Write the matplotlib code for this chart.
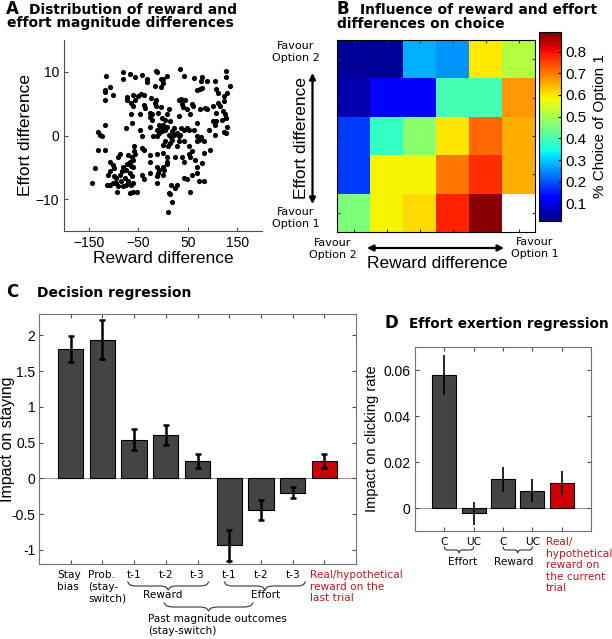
import numpy as np
import matplotlib
matplotlib.use("Agg")
import matplotlib.pyplot as plt
from matplotlib.transforms import blended_transform_factory

W, H = 612, 639

# ----------------------------------------------------------------------------
# Data
# ----------------------------------------------------------------------------
# A: trial-wise reward / effort magnitude differences
reward_diff = [
    -116, -80, -80, -67, -57, -43, -15, -12, -4, 9, 35, 42, 63, 79, 76, 89, 105, 127, 127, 135,
    -108, -117, -117, -101, -117, -32, -32, -17, -4, -1, 1, -44, -38, -51, -61, -72, -56, -72,
    -25, -14, -17, -15, 69, 74, 78, 108, 111, 124, 129, 32, 37, 45, 38, 40, 58, 49, 61, 85,
    101, 111, 116, 124,
    -64, -61, -39, -37, -47, -27, -23, -26, -22, -11, -4, 12, 9, -3, 5, 32, 55, 75, 88, 108,
    122, 125, 127, -64, 15,
    -118, -132, -128, -123, -75, -62, -46, -26, -9, -4, 0, 2, 5, -12, 8, 22, 19, 29, 35, 36,
    42, 48, 52, 62, 69, 101, 105, 108, 120, 105, 123, 127, 130, 92, -43, -20, -13, -8, -3, 13,
    16, 22, 32, 69, 77,
    -132, -118, -59, -58, -56, -43, -38, -26, -13, 1, 5, 10, 15, 19, 29, 32, 42, 52, 69, 72,
    82, 94, 82, 58, 53, 55, 38, 42, 25, 9, -1, 9, -87, -71, -63, -67, -61, -73, -64, -80,
    -107, -102, -138, -26, -13, -9, 1, 9, 65, 69, 79,
    -98, -107, -111, -98, -94, -87, -82, -74, -67, -63, -77, -71, -84, -94, -101, -107, -114,
    -143, -91, -92, -80, -74, -65, -61, -67, -61, -52, -61, -43, -38, -26, -13, -11, -13, 1,
    2, 29, 16, 25, 12, 15, 19, 11, 43, 49, 55, 58, 69, 72, 82, -91,
]
effort_diff = [
    9.4, 10.0, 8.8, 9.6, 9.2, 9.5, 10.2, 9.9, 8.8, 9.3, 10.5, 9.4, 9.0, 9.2, 8.6, 8.5, 8.5, 10.2, 9.2, 7.7,
    7.6, 7.1, 6.8, 6.4, 5.6, 8.8, 8.4, 7.8, 7.6, 8.3, 8.8, 6.5, 6.3, 6.2, 6.4, 6.0, 5.6, 5.6,
    5.9, 5.6, 5.1, 4.7, 7.1, 7.3, 7.5, 7.3, 6.7, 6.2, 6.7, 5.6, 5.8, 5.6, 5.0, 4.5, 4.9, 4.2, 4.6, 4.3,
    4.7, 5.1, 4.7, 5.4,
    5.1, 4.6, 4.8, 4.3, 3.3, 3.6, 3.4, 2.9, 2.5, 3.5, 4.4, 4.1, 3.3, 2.8, 2.5, 3.1, 3.3, 4.1, 4.1, 3.5,
    3.8, 3.3, 2.8, 3.3, 2.2,
    1.7, 0.5, 0.1, -0.1, 1.2, 2.0, 0.8, 1.4, 1.7, 1.2, 1.7, 1.2, 0.9, 0.9, 1.4, 1.2, 0.7, 0.4, 0.1, 1.2,
    0.9, 1.2, 0.8, 0.9, 2.0, 2.2, 1.7, 2.3, 2.5, 0.1, 0.5, 0.4, 1.4, 0.9, 0.0, 0.0, 0.0, 0.4, 0.7, 0.1,
    -0.2, 0.1, -0.1, -0.1, -0.3,
    -2.3, -2.2, -1.7, -2.5, -2.9, -2.0, -2.2, -3.0, -2.9, -1.5, -0.9, -1.7, -1.2, -0.7, -1.7, -0.8, -0.9, -1.7, -0.9, -0.7,
    -0.8, -2.3, -2.8, -2.4, -2.9, -3.3, -3.3, -4.1, -3.3, -3.4, -2.8, -4.1, -2.9, -3.0, -3.3, -4.1, -3.8, -4.4, -4.8, -4.9,
    -4.1, -4.6, -5.1, -4.1, -4.9, -5.4, -4.9, -4.5, -3.8, -4.9, -4.3,
    -5.1, -5.6, -6.2, -6.3, -6.7, -6.2, -5.6, -5.4, -5.9, -6.4, -6.7, -7.2, -7.2, -7.5, -7.5, -7.7, -7.7,
    -7.5, -8.0, -8.8, -8.0, -7.7, -7.7, -7.4, -9.0, -8.8, -8.8, -4.9, -6.2, -6.9, -5.9, -6.3, -5.9, -7.5, -6.2,
    -5.4, -7.7, -7.7, -8.3, -9.0, -9.2, -10.5, -12.0, -6.7, -6.9, -8.8, -6.2, -5.9, -7.2, -7.2, -3.3,
]

# B: proportion choosing option 1; rows = effort bins (favour opt 2 -> opt 1),
# columns = reward bins (favour opt 2 -> opt 1). Empty bin = NaN.
choice_pct = [
    [0.04, 0.04, 0.28, 0.255, 0.595, 0.515],
    [0.055, 0.12, 0.12, 0.40, 0.40, 0.67],
    [0.18, 0.38, 0.47, 0.60, 0.715, 0.65],
    [0.18, 0.585, 0.585, 0.70, 0.77, 0.65],
    [0.455, 0.585, 0.61, 0.78, 0.88, np.nan],
]
cbar_ticks = [0.1, 0.2, 0.3, 0.4, 0.5, 0.6, 0.7, 0.8]

# C: decision regression
dec_labels = ["Stay\nbias", "Prob.\n(stay-\nswitch)", "t-1", "t-2", "t-3",
              "t-1", "t-2", "t-3", "Real/hypothetical\nreward on the\nlast trial"]
dec_beta = [1.81, 1.94, 0.54, 0.61, 0.24, -0.94, -0.44, -0.20, 0.24]
dec_err = [0.18, 0.27, 0.15, 0.14, 0.095, 0.22, 0.14, 0.075, 0.095]

# D: effort exertion regression
eff_labels = ["C", "UC", "C", "UC", "Real/\nhypothetical\nreward on\nthe current\ntrial"]
eff_beta = [0.058, -0.0022, 0.0124, 0.0075, 0.011]
eff_err = [0.0087, 0.005, 0.0054, 0.005, 0.0052]

DARK = "#444444"
RED = "#cc0000"
LABEL_RED = "#c0161c"
FRAME = "0.45"
AXFONT = "Liberation Sans"

plt.rcParams["font.family"] = "DejaVu Sans"


def px_axes(fig, l, t, r, b):
    """Axes placed by pixel box (left, top, right, bottom) in the 612x639 canvas."""
    return fig.add_axes([l / W, 1 - b / H, (r - l) / W, (b - t) / H])


def brace(ax, x0, x1, y, h, lw=0.8):
    """Downward curly brace under the axis, x in data coords, y in axes fraction."""
    tr = blended_transform_factory(ax.transData, ax.transAxes)
    xm = 0.5 * (x0 + x1)
    d = 0.08 * (x1 - x0)
    xs = [x0, x0 + 0.3 * d, x0 + d, xm - d, xm - 0.3 * d, xm,
          xm + 0.3 * d, xm + d, x1 - d, x1 - 0.3 * d, x1]
    ys = [y, y - 0.35 * h, y - 0.5 * h, y - 0.5 * h, y - 0.65 * h, y - h,
          y - 0.65 * h, y - 0.5 * h, y - 0.5 * h, y - 0.35 * h, y]
    ax.plot(xs, ys, color="0.2", lw=lw, transform=tr, clip_on=False)


fig = plt.figure(figsize=(W / 100, H / 100), dpi=100)
ov = fig.add_axes([0, 0, 1, 1], zorder=-1)
ov.set_xlim(0, W); ov.set_ylim(H, 0); ov.axis("off")

title_kw = dict(fontsize=10, fontweight="bold", va="baseline", ha="left")
letter_kw = dict(fontsize=12, fontweight="bold", va="baseline", ha="left")

# ---------------------------------------------------------------- panel A
ov.text(6, 13.5, "A", **letter_kw)
ov.text(29, 13.5, "Distribution of reward and", **title_kw)
ov.text(7, 27.5, "effort magnitude differences", **title_kw)

axA = px_axes(fig, 64, 40, 262, 231)
axA.scatter(reward_diff, effort_diff, s=14, color="black", linewidths=0)
axA.set_xlim(-200, 200); axA.set_ylim(-15, 15)
axA.set_xticks([-150, -50, 50, 150]); axA.set_yticks([-10, 0, 10])
axA.spines[["top", "right"]].set_visible(False)
for sp in axA.spines.values():
    sp.set_color("0.3")
axA.tick_params(direction="in", length=3, color="0.3", labelsize=10)
for t in axA.get_xticklabels() + axA.get_yticklabels():
    t.set_family(AXFONT)
axA.set_xlabel("Reward difference", fontsize=12.5, family=AXFONT, labelpad=1)
axA.set_ylabel("Effort difference", fontsize=12.5, family=AXFONT, labelpad=2)

# ---------------------------------------------------------------- panel B
ov.text(336, 13.5, "B", **letter_kw)
ov.text(360, 13.5, "Influence of reward and effort", **title_kw)
ov.text(337, 28, "differences on choice", **title_kw)

axB = px_axes(fig, 337, 40, 535, 232)
cp = np.array(choice_pct, dtype=float)
im = axB.imshow(cp, cmap="jet", vmin=0.02, vmax=0.89, aspect="auto",
                interpolation="nearest")
axB.set_xticks(np.arange(cp.shape[1])); axB.set_yticks(np.arange(cp.shape[0]))
axB.set_xticklabels([]); axB.set_yticklabels([])
axB.tick_params(direction="in", length=2.5, top=True, right=True, color="0.2")

cax = px_axes(fig, 539, 32, 561, 221)
cb = fig.colorbar(im, cax=cax, ticks=cbar_ticks)
cb.outline.set_linewidth(0.8)
cb.ax.tick_params(labelsize=11, length=2.5, direction="in")
for t in cb.ax.get_yticklabels():
    t.set_family(AXFONT)
cb.set_label("% Choice of Option 1", fontsize=11, family=AXFONT, labelpad=4)

fav_kw = dict(fontsize=8, ha="center", va="center", linespacing=1.15)
ov.text(296, 52, "Favour\nOption 2", **fav_kw)
ov.text(296, 218, "Favour\nOption 1", **fav_kw)
ov.text(333, 249, "Favour\nOption 2", **fav_kw)
ov.text(535, 248, "Favour\nOption 1", **fav_kw)
ov.annotate("", xy=(312.5, 73), xytext=(312.5, 204),
            arrowprops=dict(arrowstyle="<|-|>", color="black", lw=1.6,
                            mutation_scale=9, shrinkA=0, shrinkB=0))
ov.annotate("", xy=(367, 248), xytext=(504, 248),
            arrowprops=dict(arrowstyle="<|-|>", color="black", lw=1.6,
                            mutation_scale=9, shrinkA=0, shrinkB=0))
ov.text(301, 138, "Effort difference", rotation=90, fontsize=12.5,
        family=AXFONT, ha="center", va="center")
ov.text(437, 263, "Reward difference", fontsize=12.5, family=AXFONT,
        ha="center", va="center")

# ---------------------------------------------------------------- panel C
ov.text(6, 297, "C", **letter_kw)
ov.text(37, 297, "Decision regression", **title_kw)

axC = px_axes(fig, 39, 314, 356, 564)
xc = np.arange(1, len(dec_beta) + 1)
colsC = [DARK] * (len(dec_beta) - 1) + [RED]
axC.bar(xc, dec_beta, width=0.8, color=colsC, edgecolor="black", linewidth=0.8,
        zorder=2)
axC.errorbar(xc, dec_beta, yerr=dec_err, fmt="none", ecolor="black",
             elinewidth=1.8, capsize=2.5, capthick=1.8, zorder=3)
axC.axhline(0, color="0.6", lw=0.8, zorder=1)
axC.set_xlim(0, 10); axC.set_ylim(-1.2, 2.3)
axC.set_xticks(xc); axC.set_xticklabels([])
axC.set_yticks([-1, -0.5, 0, 0.5, 1, 1.5, 2])
axC.set_yticklabels(["-1", "-0.5", "0", "0.5", "1", "1.5", "2"])
axC.tick_params(direction="in", length=3, top=True, right=True, color="0.3",
                labelsize=10, pad=2.5)
for t in axC.get_yticklabels():
    t.set_family(AXFONT)
for sp in axC.spines.values():
    sp.set_color(FRAME)
axC.set_ylabel("Impact on staying", fontsize=11.5, family=AXFONT, va="center")
axC.yaxis.set_label_coords(-0.1, 0.5)

trC = blended_transform_factory(axC.transData, axC.transAxes)
cat_kw = dict(fontsize=7.6, va="top", linespacing=1.2, transform=trC)
yC = lambda py: (564 - py) / 250.0
axC.text(0.57, yC(570), dec_labels[0], ha="left", **cat_kw)
axC.text(1.56, yC(570), dec_labels[1], ha="left", **cat_kw)
for i in range(2, 8):
    axC.text(xc[i], yC(570), dec_labels[i], ha="center", **cat_kw)
axC.text(8.55, yC(570), dec_labels[8], ha="left", color=LABEL_RED, **cat_kw)
brace(axC, 2.8, 5.35, yC(582), 8 / 250.0)
brace(axC, 5.85, 8.4, yC(582), 8 / 250.0)
brace(axC, 3.95, 6.75, yC(603), 8 / 250.0)
axC.text(3.9, yC(590), "Reward", ha="center", **cat_kw)
axC.text(7.15, yC(590), "Effort", ha="center", **cat_kw)
axC.text(3.45, yC(614), "Past magnitude outcomes\n(stay-switch)", ha="left",
         **cat_kw)

# ---------------------------------------------------------------- panel D
ov.text(385, 328, "D", **letter_kw)
ov.text(409, 328, "Effort exertion regression", fontsize=9.8,
        fontweight="bold", va="baseline", ha="left")

axD = px_axes(fig, 415, 347, 591, 531)
xd = np.arange(1, len(eff_beta) + 1)
colsD = [DARK] * (len(eff_beta) - 1) + [RED]
axD.bar(xd, eff_beta, width=0.82, color=colsD, edgecolor="black",
        linewidth=0.8, zorder=2)
axD.errorbar(xd, eff_beta, yerr=eff_err, fmt="none", ecolor="black",
             elinewidth=1.2, capsize=0, zorder=3)
axD.axhline(0, color="0.6", lw=0.8, zorder=1)
axD.set_xlim(0, 6); axD.set_ylim(-0.01, 0.07)
axD.set_xticks(xd); axD.set_xticklabels([])
axD.set_yticks([0, 0.02, 0.04, 0.06])
axD.set_yticklabels(["0", "0.02", "0.04", "0.06"])
axD.tick_params(direction="in", length=3, top=True, right=True, color="0.3",
                labelsize=10)
for t in axD.get_yticklabels():
    t.set_family(AXFONT)
for sp in axD.spines.values():
    sp.set_color(FRAME)
axD.set_ylabel("Impact on clicking rate", fontsize=10.5, family=AXFONT,
               labelpad=3)

trD = blended_transform_factory(axD.transData, axD.transAxes)
catD = dict(fontsize=7.6, va="top", linespacing=1.2, transform=trD)
yD = lambda py: (531 - py) / 184.0
for i in range(4):
    axD.text(xd[i], yD(537), eff_labels[i], ha="center", **catD)
axD.text(4.45, yD(537), eff_labels[4], ha="left", color=LABEL_RED, **catD)
brace(axD, 1.0, 2.0, yD(547), 6 / 184.0)
brace(axD, 3.0, 4.0, yD(547), 6 / 184.0)
axD.text(1.63, yD(557), "Effort", ha="center", **catD)
axD.text(3.37, yD(557), "Reward", ha="center", **catD)

fig.savefig("out.png", dpi=100)
